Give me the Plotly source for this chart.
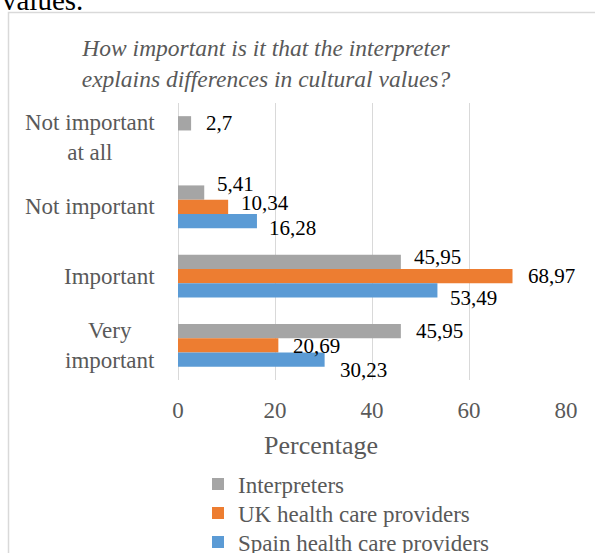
import plotly.graph_objects as go

# ---- data -------------------------------------------------------------
categories = ["Not important at all", "Not important", "Important", "Very important"]
category_labels = ["Not important<br>at all", "Not important", "Important", "Very<br>important"]
series_names = ["Interpreters", "UK health care providers", "Spain health care providers"]
interpreters = [2.7, 5.41, 45.95, 45.95]
uk_providers = [None, 10.34, 68.97, 20.69]
spain_providers = [None, 16.28, 53.49, 30.23]
x_ticks = [0, 20, 40, 60, 80]

# ---- styling ----------------------------------------------------------
W, H = 595, 553
PL, PR, PT, PB = 178, 566, 103, 380          # plot area in pixels
SERIF = "Liberation Serif"
TEXT_GREY = "#595959"
colors = ["#A5A5A5", "#ED7D31", "#5B9BD5"]
BARGAP = 0.38
legend_rows_px = [484, 513, 542]              # centre of each legend row

# per-label nudges (pixels): horizontal gap from bar end, vertical offset
label_dx = [[13, 11, 11, 13], [0, 11, 13, 13], [0, 10, 11, 13]]
label_dy = [[0, -9, -5, 0], [0, -4, 0, 1], [0, 7, 8, 10]]


def px_x(p):
    return (p - PL) / (PR - PL)


def px_y(p):
    return (PB - p) / (PB - PT)


series_values = [interpreters, uk_providers, spain_providers]
legend_ids = ["legend", "legend2", "legend3"]

fig = go.Figure()
for name, vals, col, lid in zip(series_names, series_values, colors, legend_ids):
    fig.add_trace(go.Bar(
        y=categories, x=vals, name=name, orientation="h",
        marker=dict(color=col, line=dict(width=0)),
        hoverinfo="skip", legend=lid,
    ))

# value labels next to the bar ends
cat_px = (PB - PT) / len(categories)
bar_px = cat_px * (1 - BARGAP) / len(series_names)
annotations = []
for k, vals in enumerate(series_values):
    for j, v in enumerate(vals):
        if v is None:
            continue
        offset = (k - (len(series_names) - 1) / 2) * bar_px + label_dy[k][j]
        annotations.append(dict(
            x=v, y=categories[j], xref="x", yref="y",
            text=f"{v:g}".replace(".", ","),
            showarrow=False, xanchor="left", yanchor="middle",
            xshift=label_dx[k][j], yshift=-offset,
            font=dict(family=SERIF, size=21, color="#000000"),
        ))

# category labels, centred multi-line
for cat, lab in zip(categories, category_labels):
    annotations.append(dict(
        x=px_x(157), y=cat, xref="paper", yref="y", text=lab,
        showarrow=False, xanchor="right", yanchor="middle", align="center",
        font=dict(family=SERIF, size=23, color=TEXT_GREY),
    ))

# axis title
annotations.append(dict(
    x=px_x(321), y=px_y(445), xref="paper", yref="paper", text="Percentage",
    showarrow=False, xanchor="center", yanchor="middle",
    font=dict(family=SERIF, size=26, color=TEXT_GREY),
))

# running text of the surrounding page
annotations.append(dict(
    x=px_x(0), y=px_y(18), xref="paper", yref="paper", text="values.",
    showarrow=False, xanchor="left", yanchor="bottom",
    font=dict(family=SERIF, size=29, color="#000000"),
))

legend_style = dict(
    orientation="v", xanchor="left", yanchor="middle",
    xref="paper", yref="paper",
    font=dict(family=SERIF, size=23, color=TEXT_GREY),
    bgcolor="rgba(0,0,0,0)", itemclick=False, itemdoubleclick=False,
)
legends = {lid: dict(legend_style, x=px_x(198), y=px_y(row))
           for lid, row in zip(legend_ids, legend_rows_px)}

fig.update_layout(
    width=W, height=H,
    margin=dict(l=PL, r=W - PR, t=PT, b=H - PB, pad=0, autoexpand=False),
    paper_bgcolor="white", plot_bgcolor="white",
    barmode="group", bargap=BARGAP, bargroupgap=0,
    title=dict(
        text="How important is it that the interpreter<br>explains differences in cultural values?",
        x=266 / W, xref="container", xanchor="center",
        y=1 - 56 / H, yref="container", yanchor="middle",
        font=dict(family=SERIF, size=23.5, color=TEXT_GREY, style="italic"),
    ),
    xaxis=dict(
        range=[0, 80], tickvals=x_ticks, ticktext=[str(t) for t in x_ticks],
        showgrid=True, gridcolor="#D9D9D9", gridwidth=1,
        zeroline=True, zerolinecolor="#D9D9D9", zerolinewidth=1,
        showline=False, ticks="",
        tickfont=dict(family=SERIF, size=23, color=TEXT_GREY),
        ticklabelstandoff=14,
        fixedrange=True,
    ),
    yaxis=dict(
        categoryorder="array", categoryarray=categories,
        autorange="reversed", showticklabels=False, showgrid=False,
        zeroline=False, showline=False, ticks="", fixedrange=True,
    ),
    annotations=annotations,
    shapes=[dict(
        type="rect", xref="paper", yref="paper",
        x0=px_x(8.5), x1=px_x(700), y0=px_y(12.5), y1=px_y(700),
        line=dict(color="#D9D9D9", width=1.5), fillcolor="rgba(0,0,0,0)",
        layer="below",
    )],
    showlegend=True,
    **legends,
)

fig.write_html("out.html")
